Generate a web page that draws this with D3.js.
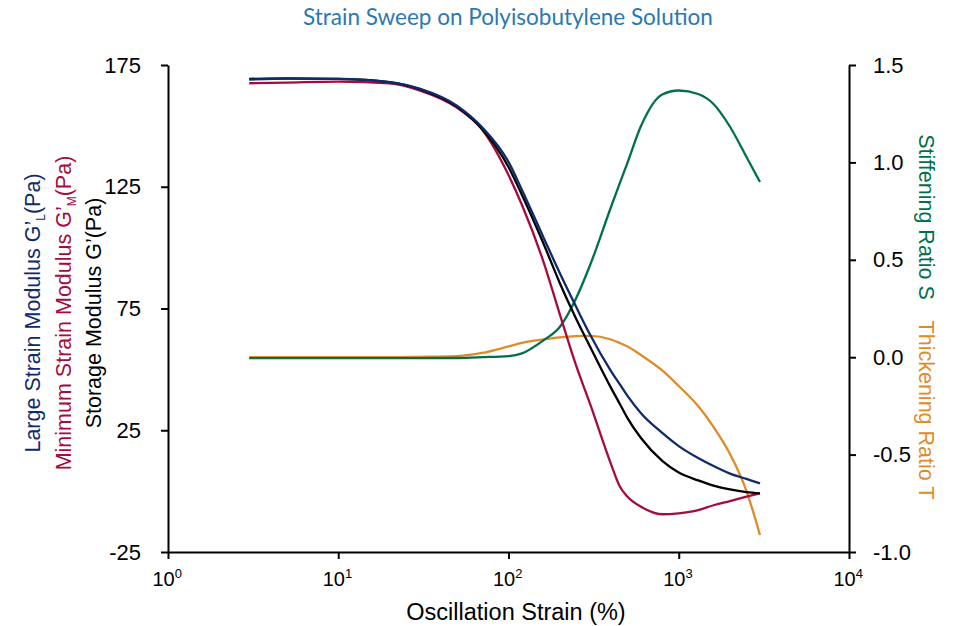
<!DOCTYPE html>
<head>
  <script src="https://d3js.org/d3.v7.min.js"></script>
  <meta charset='utf-8'>
  <title>Strain Sweep</title>
  <style>
    body { margin: 0; background: #fff; }
    svg text { font-family: "Liberation Sans", Arial, Helvetica, sans-serif; }
    .axis path, .axis line { stroke: #000; stroke-width: 2; }
    .axis text { font-size: 22px; fill: #000; }
  </style>
</head>
<body>
<div id="chart"></div>
<script>

// oscillation strain (%)
var strain = [3, 5, 10, 20, 30, 50, 70, 100, 120, 160, 200, 250, 300, 400, 450, 500, 600, 800, 1000, 1300, 1600, 2000, 2500, 3000];

// left axis (Pa)
var storageG = [169.3, 169.5, 169.3, 168.0, 165.1, 157.8, 148.7, 133.1, 121.6, 101.9, 85.5, 70.7, 59.6, 42.4, 35.9, 30.0, 21.8, 12.4, 7.6, 4.4, 2.3, 0.7, -0.4, -0.9];
var largeG = [169.0, 169.4, 169.3, 168.0, 165.3, 158.2, 149.4, 135.2, 123.7, 104.4, 89.6, 75.6, 64.5, 49.3, 43.9, 39.1, 32.0, 23.9, 18.5, 13.6, 10.3, 7.2, 5.0, 3.2];
var minimumG = [167.5, 167.8, 168.2, 167.5, 164.6, 157.4, 148.5, 129.8, 117.5, 94.5, 72.7, 51.4, 36.2, 11.1, 2.0, -2.3, -6.4, -9.5, -9.1, -7.8, -5.8, -4.1, -2.3, -0.9];

// right axis (ratios)
var thickeningT = [0.0, 0.0, 0.0, 0.0, 0.002, 0.006, 0.022, 0.055, 0.073, 0.091, 0.102, 0.108, 0.109, 0.091, 0.073, 0.055, 0.011, -0.068, -0.148, -0.251, -0.358, -0.497, -0.687, -0.913];
var stiffeningS = [-0.005, -0.005, -0.005, -0.005, -0.005, -0.004, 0.0, 0.006, 0.020, 0.086, 0.155, 0.304, 0.468, 0.771, 0.892, 0.999, 1.187, 1.349, 1.369, 1.351, 1.300, 1.183, 1.028, 0.899];

var xTicks = [1, 10, 100, 1000, 10000];
var leftTicks = [-25, 25, 75, 125, 175];
var rightTicks = [-1.0, -0.5, 0.0, 0.5, 1.0, 1.5];

var width = 972, height = 626;
var margin = {top: 65, right: 123, bottom: 74, left: 168};

var svg = d3.select("#chart").append("svg")
    .attr("width", width)
    .attr("height", height);

var x = d3.scaleLog()
    .domain([1, 10000])
    .range([margin.left, width - margin.right]);

var yL = d3.scaleLinear()
    .domain([-25, 175])
    .range([height - margin.bottom, margin.top]);

var yR = d3.scaleLinear()
    .domain([-1, 1.5])
    .range([height - margin.bottom, margin.top]);

// title
svg.append("text")
    .attr("x", 508)
    .attr("y", 25)
    .attr("text-anchor", "middle")
    .style("font-family", "Lato, 'Open Sans', sans-serif")
    .style("font-size", "22.5px")
    .attr("fill", "#2a79b0")
    .text("Strain Sweep on Polyisobutylene Solution");

// axes
var gx = svg.append("g")
    .attr("class", "axis")
    .attr("transform", `translate(0, ${height - margin.bottom})`)
    .call(d3.axisBottom(x).tickValues(xTicks).tickSize(7).tickSizeOuter(0).tickFormat(""));

gx.selectAll(".tick").append("text")
    .attr("y", 34)
    .attr("x", -16)
    .attr("fill", "#000")
    .attr("text-anchor", "start")
    .style("font-size", "20px")
    .each(function(d) {
      var t = d3.select(this);
      t.append("tspan").text("10");
      t.append("tspan").attr("dy", -8).style("font-size", "13px").text(Math.round(Math.log10(d)));
    });

svg.append("g")
    .attr("class", "axis")
    .attr("transform", `translate(${margin.left}, 0)`)
    .call(d3.axisLeft(yL).tickValues(leftTicks).tickSize(7).tickSizeOuter(0).tickPadding(20)
      .tickFormat(function(d) { return String(d); }));

svg.append("g")
    .attr("class", "axis")
    .attr("transform", `translate(${width - margin.right}, 0)`)
    .call(d3.axisRight(yR).tickValues(rightTicks).tickSize(7).tickSizeOuter(0).tickPadding(17)
      .tickFormat(function(d) { return d.toFixed(1); }));

// lines
function drawLine(vals, yScale, color) {
  svg.append("path")
    .datum(strain.map(function(s, i) { return [s, vals[i]]; }))
    .attr("fill", "none")
    .attr("stroke", color)
    .attr("stroke-width", 2.3)
    .attr("d", d3.line()
      .x(function(d) { return x(d[0]); })
      .y(function(d) { return yScale(d[1]); })
      .curve(d3.curveMonotoneX));
}

drawLine(thickeningT, yR, "#e08a2a");
drawLine(stiffeningS, yR, "#00704a");
drawLine(minimumG, yL, "#a50b3d");
drawLine(storageG, yL, "#000000");
drawLine(largeG, yL, "#0e2b6b");

// x title
svg.append("text")
    .attr("x", 516)
    .attr("y", 620)
    .attr("text-anchor", "middle")
    .style("font-size", "23.5px")
    .text("Oscillation Strain (%)");

// left y titles
function leftTitle(xpos, color, main, sub) {
  var t = svg.append("text")
    .attr("transform", `translate(${xpos}, 313) rotate(-90)`)
    .attr("text-anchor", "middle")
    .style("font-size", "21.5px")
    .attr("fill", color);
  t.append("tspan").text(main);
  if (sub) {
    t.append("tspan").attr("dy", 5).style("font-size", "12px").text(sub);
    t.append("tspan").attr("dy", -5).text("(Pa)");
  } else {
    t.append("tspan").text("(Pa)");
  }
}
leftTitle(40, "#0e2b6b", "Large Strain Modulus G\u2019", "L");
leftTitle(71, "#a50b3d", "Minimum Strain Modulus G\u2019", "M");
leftTitle(101, "#000000", "Storage Modulus G\u2019", null);

// right y titles
svg.append("text")
    .attr("transform", "translate(919, 217) rotate(90)")
    .attr("text-anchor", "middle")
    .style("font-size", "21.5px")
    .attr("fill", "#00704a")
    .text("Stiffening Ratio S");

svg.append("text")
    .attr("transform", "translate(919, 410) rotate(90)")
    .attr("text-anchor", "middle")
    .style("font-size", "21.5px")
    .attr("fill", "#e08a2a")
    .text("Thickening Ratio T");

</script>
</body>
